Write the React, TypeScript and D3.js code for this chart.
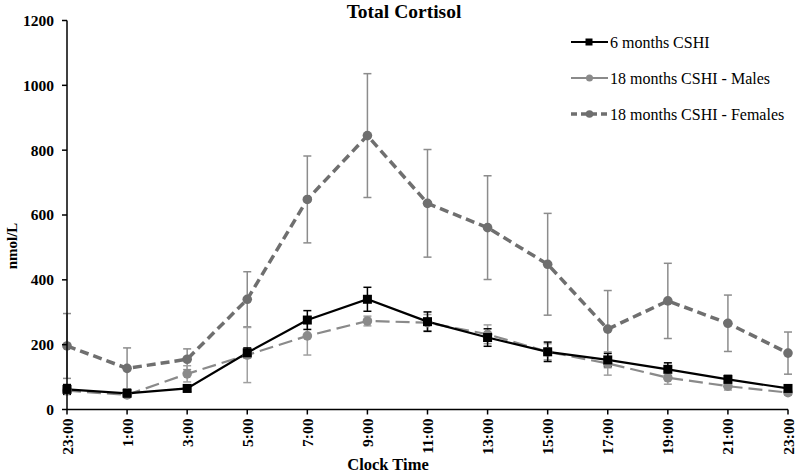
import React from "react";
import * as d3 from "d3";

const categories = ["23:00","1:00","3:00","5:00","7:00","9:00","11:00","13:00","15:00","17:00","19:00","21:00","23:00"];
const yTicks = [0, 200, 400, 600, 800, 1000, 1200];

const sixMonths = [62, 50, 65, 175, 276, 340, 271, 222, 178, 153, 124, 93, 65];
const sixMonthsErr = [15, 10, 10, 15, 29, 37, 30, 27, 30, 20, 20, 12, 10];

const males = [58, 45, 110, 168, 227, 273, 268, 232, 178, 142, 98, 72, 52];
const malesErr = [12, 8, 25, 85, 59, 15, 25, 29, 25, 36, 20, 12, 8];

const females = [196, 127, 155, 340, 648, 845, 636, 561, 448, 248, 335, 266, 174];
const femalesErr = [100, 63, 32, 85, 134, 191, 166, 160, 157, 119, 116, 87, 65];

const W = 800, H = 474;
const left = 67, right = 788, top = 20.5, bottom = 409.5;

export default function App() {
  const x = d3.scalePoint<number>().domain(d3.range(categories.length)).range([left, right]);
  const y = d3.scaleLinear().domain([0, 1200]).range([bottom, top]);
  const line = d3.line<number>().x((_, i) => x(i)!).y((d) => y(d));
  const serif = "'Liberation Serif', 'Times New Roman', serif";

  const errBars = (vals: number[], errs: number[], color: string, key: string, w = 1.5) =>
    vals.map((v, i) => {
      const cx = x(i)!;
      const y1 = y(v + errs[i]);
      const y2 = y(Math.max(0, v - errs[i]));
      return (
        <g key={key + i} stroke={color} strokeWidth={w}>
          <line x1={cx} x2={cx} y1={y1} y2={y2} />
          <line x1={cx - 4} x2={cx + 4} y1={y1} y2={y1} />
          <line x1={cx - 4} x2={cx + 4} y1={y2} y2={y2} />
        </g>
      );
    });

  const femColor = "#6f6f6f";
  const maleColor = "#8a8a8a";
  const errColor = "#8c8c8c";

  return (
    <svg width={W} height={H} style={{ position: "absolute", left: 0, top: 0, background: "#fff" }} fontFamily={serif}>
      <rect width={W} height={H} fill="#fff" />
      <text x={404} y={18} textAnchor="middle" fontWeight="bold" fontSize={19.5}>Total Cortisol</text>

      {/* error bars */}
      {errBars(females, femalesErr, errColor, "fe")}
      {errBars(males, malesErr, "#a0a0a0", "me")}
      {errBars(sixMonths, sixMonthsErr, "#000", "se")}

      {/* lines */}
      <path d={line(females) ?? ""} fill="none" stroke={femColor} strokeWidth={3.5} strokeDasharray="9,5" />
      <path d={line(males) ?? ""} fill="none" stroke={maleColor} strokeWidth={2.2} strokeDasharray="14,6" />
      <path d={line(sixMonths) ?? ""} fill="none" stroke="#000" strokeWidth={2.2} />

      {/* markers */}
      {females.map((v, i) => <circle key={"fc" + i} cx={x(i)} cy={y(v)} r={4.8} fill={femColor} />)}
      {males.map((v, i) => <circle key={"mc" + i} cx={x(i)} cy={y(v)} r={4.8} fill={maleColor} />)}
      {sixMonths.map((v, i) => <rect key={"sq" + i} x={x(i)! - 4.5} y={y(v) - 4.5} width={9} height={9} fill="#000" />)}

      {/* axes */}
      <line x1={left} x2={left} y1={top} y2={bottom} stroke="#000" strokeWidth={1.5} />
      <line x1={left} x2={right} y1={bottom} y2={bottom} stroke="#000" strokeWidth={1.5} />
      {yTicks.map((t) => (
        <g key={"yt" + t}>
          <line x1={left - 5} x2={left} y1={y(t)} y2={y(t)} stroke="#000" strokeWidth={1.5} />
          <text x={54} y={y(t)} dy="0.35em" textAnchor="end" fontWeight="bold" fontSize={15.5}>{t}</text>
        </g>
      ))}
      {categories.map((c, i) => (
        <g key={"xt" + i}>
          <line x1={x(i)} x2={x(i)} y1={bottom} y2={bottom + 5} stroke="#000" strokeWidth={1.5} />
          <text transform={`translate(${x(i)! + 5.5},${bottom + 9}) rotate(-90)`} textAnchor="end" fontWeight="bold" fontSize={15.5}>{c}</text>
        </g>
      ))}
      <text transform={`translate(17,246) rotate(-90)`} textAnchor="middle" fontWeight="bold" fontSize={15}>nmol/L</text>
      <text x={388} y={470} textAnchor="middle" fontWeight="bold" fontSize={16.5}>Clock Time</text>

      {/* legend */}
      <g fontSize={16}>
        <line x1={571} x2={608} y1={42} y2={42} stroke="#000" strokeWidth={2.2} />
        <rect x={585.5} y={38.5} width={7} height={7} fill="#000" />
        <text x={610} y={42} dy="0.35em">6 months CSHI</text>

        <line x1={571} x2={608} y1={78} y2={78} stroke={maleColor} strokeWidth={2.2} />
        <circle cx={589.5} cy={78} r={3.5} fill={maleColor} />
        <text x={610} y={78} dy="0.35em">18 months CSHI - Males</text>

        <line x1={571} x2={608} y1={114} y2={114} stroke={femColor} strokeWidth={3.5} strokeDasharray="6,4" />
        <circle cx={589.5} cy={114} r={3.8} fill={femColor} />
        <text x={610} y={114} dy="0.35em">18 months CSHI - Females</text>
      </g>
    </svg>
  );
}
